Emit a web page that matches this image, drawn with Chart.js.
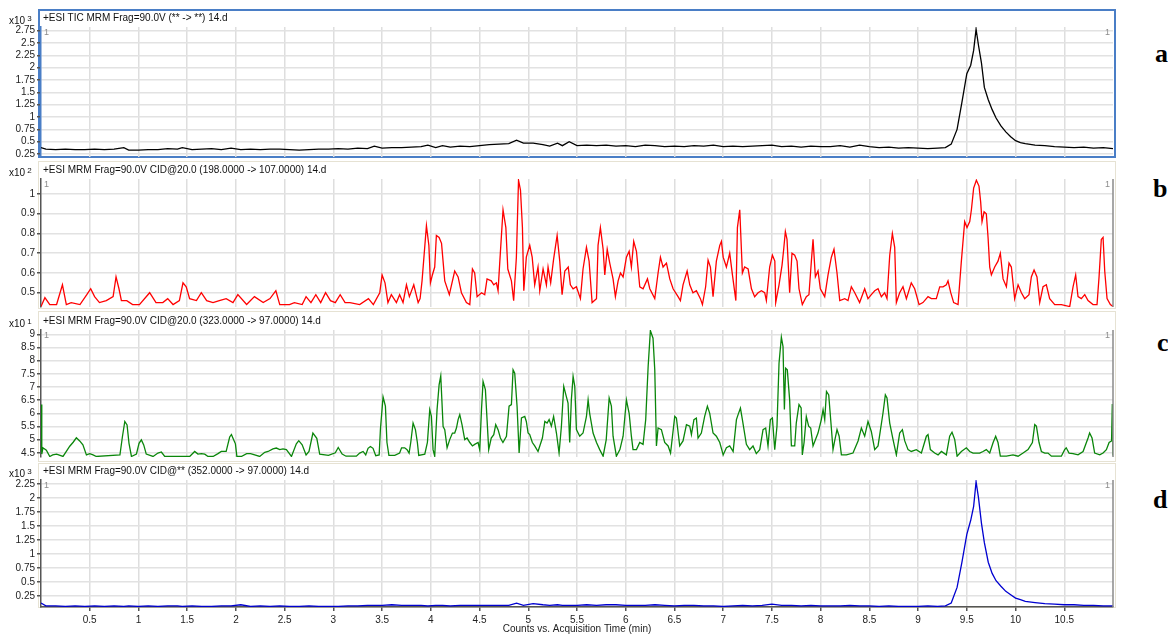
<!DOCTYPE html>
<html>
<head>
<meta charset="utf-8">
<title>MRM chromatograms</title>
<script src="https://cdn.jsdelivr.net/npm/chart.js@4.4.1/dist/chart.umd.min.js"></script>
<style>
  body { margin: 0; width: 1168px; height: 634px; overflow: hidden; background: #fff;
         position: relative; font-family: "Liberation Sans", Arial, sans-serif; }
  .frame { position: absolute; left: 38px; width: 1078px; box-sizing: border-box; border: 1.5px solid #e6e2d3; }
  .frame.sel { border: 2px solid #4a7ec6; }
  .pane { position: absolute; left: 0; }
  .ttl { position: absolute; left: 43px; font-size: 10px; line-height: 12px; color: #111; white-space: nowrap; }
  .exp { position: absolute; left: 9px; font-size: 10px; line-height: 12px; color: #111; }
  .exp sup { font-size: 8px; vertical-align: 3px; margin-left: 2px; }
  .tag { position: absolute; font-family: "Liberation Serif", "Times New Roman", serif; font-weight: bold; font-size: 26px; line-height: 26px; color: #000; }
</style>
</head>
<body>

<div class="frame sel" style="top:9px;height:149px"></div>
<div class="frame" style="top:161px;height:148px"></div>
<div class="frame" style="top:311px;height:151px"></div>
<div class="frame" style="top:463px;height:145px"></div>

<div class="pane" style="top:19px"><canvas id="chartA" width="1120" height="146"></canvas></div>
<div class="pane" style="top:171px"><canvas id="chartB" width="1120" height="144"></canvas></div>
<div class="pane" style="top:322px"><canvas id="chartC" width="1120" height="143"></canvas></div>
<div class="pane" style="top:472px"><canvas id="chartD" width="1120" height="162"></canvas></div>

<div class="exp" style="top:13px">x10<sup>3</sup></div>
<div class="ttl" style="top:12px">+ESI TIC MRM Frag=90.0V (** -&gt; **) 14.d</div>
<div class="exp" style="top:165px">x10<sup>2</sup></div>
<div class="ttl" style="top:164px">+ESI MRM Frag=90.0V CID@20.0 (198.0000 -&gt; 107.0000) 14.d</div>
<div class="exp" style="top:316px">x10<sup>1</sup></div>
<div class="ttl" style="top:315px">+ESI MRM Frag=90.0V CID@20.0 (323.0000 -&gt; 97.0000) 14.d</div>
<div class="exp" style="top:466px">x10<sup>3</sup></div>
<div class="ttl" style="top:465px">+ESI MRM Frag=90.0V CID@** (352.0000 -&gt; 97.0000) 14.d</div>

<div class="tag" style="left:1155px;top:41px">a</div>
<div class="tag" style="left:1153px;top:176px">b</div>
<div class="tag" style="left:1157px;top:330px">c</div>
<div class="tag" style="left:1153px;top:487px">d</div>

<script>
'use strict';

// ── acquisition times (min) shared by the TIC and the 352 -> 97 trace
const timesWide = [
  0, 0.05, 0.15, 0.25, 0.35, 0.45, 0.55, 0.65, 0.75, 0.85,
  0.9, 1.0, 1.1, 1.2, 1.3, 1.4, 1.45, 1.55, 1.65, 1.75,
  1.85, 1.95, 2.05, 2.15, 2.25, 2.35, 2.45, 2.55, 2.65, 2.75,
  2.85, 2.95, 3.05, 3.15, 3.25, 3.35, 3.42, 3.5, 3.6, 3.7,
  3.8, 3.9, 3.97, 4.05, 4.12, 4.2, 4.3, 4.4, 4.5, 4.6,
  4.7, 4.8, 4.88, 4.95, 5.05, 5.15, 5.22, 5.3, 5.35, 5.42,
  5.5, 5.6, 5.7, 5.8, 5.9, 6.0, 6.1, 6.2, 6.3, 6.4,
  6.5, 6.6, 6.7, 6.8, 6.9, 7.0, 7.1, 7.2, 7.3, 7.4,
  7.5, 7.6, 7.7, 7.8, 7.9, 8.0, 8.1, 8.2, 8.3, 8.4,
  8.5, 8.6, 8.7, 8.8, 8.9, 9.0, 9.1, 9.2, 9.28, 9.34,
  9.4, 9.45, 9.5, 9.54, 9.57, 9.595, 9.62, 9.65, 9.68, 9.72,
  9.76, 9.8, 9.85, 9.9, 9.95, 10.0, 10.05, 10.1, 10.2, 10.3,
  10.4, 10.5, 10.6, 10.7, 10.8, 10.9, 11.0
];

// (a) TIC counts, x10^3
const countsA = [
  0.38, 0.35, 0.34, 0.35, 0.34, 0.34, 0.35, 0.34, 0.35, 0.38,
  0.33, 0.33, 0.34, 0.34, 0.36, 0.35, 0.38, 0.34, 0.35, 0.36,
  0.34, 0.37, 0.34, 0.35, 0.34, 0.35, 0.35, 0.34, 0.33, 0.34,
  0.35, 0.35, 0.36, 0.35, 0.37, 0.36, 0.41, 0.37, 0.38, 0.38,
  0.39, 0.40, 0.43, 0.38, 0.42, 0.39, 0.41, 0.40, 0.42, 0.44,
  0.45, 0.46, 0.53, 0.47, 0.47, 0.44, 0.41, 0.47, 0.42, 0.50,
  0.42, 0.43, 0.42, 0.43, 0.41, 0.42, 0.40, 0.43, 0.42, 0.40,
  0.41, 0.40, 0.42, 0.41, 0.43, 0.40, 0.41, 0.40, 0.41, 0.42,
  0.43, 0.40, 0.41, 0.39, 0.41, 0.40, 0.40, 0.42, 0.39, 0.43,
  0.40, 0.38, 0.39, 0.37, 0.38, 0.37, 0.36, 0.37, 0.38, 0.45,
  0.75, 1.30, 1.88, 2.05, 2.35, 2.78, 2.45, 2.10, 1.60, 1.35,
  1.15, 0.98, 0.82, 0.70, 0.60, 0.52, 0.48, 0.46, 0.43, 0.42,
  0.40, 0.39, 0.38, 0.39, 0.37, 0.38, 0.36
];

// (d) 352 -> 97 counts, x10^3
const countsD = [
  0.12, 0.07, 0.07, 0.06, 0.07, 0.06, 0.07, 0.06, 0.07, 0.06,
  0.07, 0.06, 0.07, 0.06, 0.07, 0.07, 0.06, 0.07, 0.06, 0.06,
  0.07, 0.07, 0.09, 0.06, 0.07, 0.06, 0.07, 0.06, 0.06, 0.07,
  0.06, 0.06, 0.06, 0.07, 0.07, 0.08, 0.08, 0.08, 0.09, 0.08,
  0.08, 0.08, 0.07, 0.08, 0.08, 0.07, 0.08, 0.08, 0.08, 0.08,
  0.08, 0.08, 0.12, 0.08, 0.11, 0.09, 0.08, 0.09, 0.08, 0.08,
  0.08, 0.09, 0.08, 0.09, 0.09, 0.08, 0.08, 0.08, 0.09, 0.08,
  0.07, 0.08, 0.08, 0.07, 0.07, 0.06, 0.07, 0.08, 0.07, 0.08,
  0.10, 0.08, 0.08, 0.07, 0.08, 0.07, 0.07, 0.07, 0.08, 0.07,
  0.07, 0.06, 0.07, 0.06, 0.06, 0.06, 0.07, 0.06, 0.07, 0.12,
  0.40, 0.85, 1.35, 1.60, 1.85, 2.29, 2.00, 1.55, 1.20, 0.85,
  0.65, 0.52, 0.42, 0.33, 0.27, 0.21, 0.18, 0.15, 0.13, 0.11,
  0.10, 0.09, 0.09, 0.08, 0.08, 0.07, 0.07
];

// (b) 198 -> 107 trace
const timesB = [
  0.00, 0.04, 0.09, 0.16, 0.22, 0.26, 0.31, 0.40, 0.47, 0.51,
  0.55, 0.60, 0.67, 0.74, 0.77, 0.80, 0.825, 0.88, 0.94, 1.01,
  1.115, 1.18, 1.25, 1.30, 1.355, 1.42, 1.457, 1.49, 1.525, 1.595,
  1.645, 1.70, 1.765, 1.83, 1.90, 1.97, 2.02, 2.11, 2.19, 2.28,
  2.35, 2.41, 2.45, 2.55, 2.60, 2.68, 2.72, 2.77, 2.82, 2.87,
  2.92, 2.97, 3.02, 3.07, 3.12, 3.17, 3.27, 3.36, 3.41, 3.476,
  3.50, 3.53, 3.56, 3.595, 3.647, 3.68, 3.715, 3.75, 3.78, 3.825,
  3.87, 3.89, 3.91, 3.955, 3.98, 3.996, 4.016, 4.04, 4.057, 4.085,
  4.11, 4.143, 4.19, 4.245, 4.28, 4.314, 4.365, 4.40, 4.427, 4.45,
  4.475, 4.52, 4.553, 4.577, 4.62, 4.646, 4.673, 4.69, 4.707, 4.741,
  4.77, 4.79, 4.827, 4.85, 4.878, 4.90, 4.92, 4.94, 4.954, 4.98,
  5.015, 5.04, 5.066, 5.10, 5.118, 5.152, 5.186, 5.203, 5.23, 5.26,
  5.296, 5.323, 5.347, 5.375, 5.41, 5.432, 5.46, 5.494, 5.535, 5.562,
  5.597, 5.624, 5.655, 5.70, 5.716, 5.74, 5.768, 5.785, 5.81, 5.836,
  5.87, 5.894, 5.922, 5.946, 5.973, 6.007, 6.035, 6.058, 6.082, 6.11,
  6.144, 6.178, 6.223, 6.247, 6.298, 6.332, 6.356, 6.383, 6.418, 6.452,
  6.486, 6.537, 6.561, 6.588, 6.63, 6.657, 6.69, 6.725, 6.766, 6.787,
  6.82, 6.845, 6.869, 6.896, 6.93, 6.965, 6.982, 7.0, 7.033, 7.067,
  7.095, 7.13, 7.146, 7.17, 7.197, 7.22, 7.256, 7.29, 7.323, 7.358,
  7.392, 7.426, 7.443, 7.477, 7.505, 7.53, 7.539, 7.573, 7.604, 7.621,
  7.638, 7.655, 7.682, 7.706, 7.734, 7.758, 7.778, 7.812, 7.853, 7.88,
  7.905, 7.922, 7.946, 7.973, 7.997, 8.042, 8.076, 8.11, 8.137, 8.168,
  8.196, 8.247, 8.281, 8.315, 8.35, 8.40, 8.452, 8.486, 8.52, 8.555,
  8.589, 8.623, 8.657, 8.681, 8.709, 8.736, 8.76, 8.777, 8.811, 8.845,
  8.88, 8.93, 8.965, 9.01, 9.05, 9.102, 9.136, 9.187, 9.222, 9.256,
  9.29, 9.307, 9.335, 9.365, 9.41, 9.444, 9.478, 9.502, 9.53, 9.547,
  9.57, 9.598, 9.625, 9.642, 9.656, 9.677, 9.70, 9.718, 9.735, 9.752,
  9.786, 9.82, 9.844, 9.872, 9.906, 9.933, 9.957, 9.991, 10.026, 10.06,
  10.094, 10.138, 10.162, 10.19, 10.22, 10.248, 10.282, 10.316, 10.35, 10.402,
  10.47, 10.556, 10.59, 10.617, 10.641, 10.675, 10.71, 10.744, 10.795, 10.836,
  10.857, 10.88, 10.898, 10.915, 10.939, 10.973, 11.0
];
const countsB = [
  0.43, 0.475, 0.44, 0.44, 0.54, 0.44, 0.45, 0.44, 0.49, 0.52,
  0.48, 0.45, 0.46, 0.48, 0.58, 0.52, 0.46, 0.46, 0.44, 0.44,
  0.50, 0.45, 0.45, 0.47, 0.44, 0.46, 0.55, 0.53, 0.47, 0.46,
  0.50, 0.46, 0.45, 0.46, 0.47, 0.45, 0.49, 0.44, 0.48, 0.45,
  0.47, 0.51, 0.44, 0.44, 0.45, 0.44, 0.48, 0.45, 0.49, 0.45,
  0.50, 0.46, 0.45, 0.49, 0.45, 0.45, 0.44, 0.47, 0.44, 0.50,
  0.59, 0.55, 0.45, 0.49, 0.45, 0.49, 0.45, 0.54, 0.48, 0.54,
  0.45, 0.47, 0.56, 0.84, 0.74, 0.55, 0.59, 0.63, 0.79, 0.78,
  0.75, 0.56, 0.49, 0.61, 0.58, 0.50, 0.45, 0.44, 0.62, 0.60,
  0.48, 0.50, 0.49, 0.57, 0.56, 0.54, 0.55, 0.51, 0.65, 0.92,
  0.83, 0.62, 0.56, 0.46, 0.68, 1.07, 1.02, 0.83, 0.51, 0.68,
  0.74, 0.68, 0.54, 0.63, 0.51, 0.62, 0.54, 0.63, 0.55, 0.67,
  0.79, 0.66, 0.49, 0.61, 0.63, 0.54, 0.52, 0.53, 0.47, 0.62,
  0.73, 0.66, 0.45, 0.47, 0.74, 0.83, 0.72, 0.59, 0.72, 0.65,
  0.57, 0.48, 0.56, 0.60, 0.58, 0.68, 0.71, 0.63, 0.76, 0.71,
  0.53, 0.52, 0.57, 0.52, 0.47, 0.60, 0.68, 0.63, 0.65, 0.57,
  0.52, 0.48, 0.46, 0.54, 0.61, 0.54, 0.50, 0.51, 0.47, 0.44,
  0.53, 0.665, 0.63, 0.48, 0.66, 0.74, 0.76, 0.68, 0.63, 0.70,
  0.59, 0.46, 0.83, 0.92, 0.60, 0.63, 0.62, 0.52, 0.48, 0.50,
  0.51, 0.50, 0.46, 0.63, 0.69, 0.66, 0.45, 0.54, 0.64, 0.72,
  0.81, 0.77, 0.50, 0.70, 0.69, 0.66, 0.52, 0.44, 0.48, 0.49,
  0.66, 0.77, 0.58, 0.61, 0.52, 0.48, 0.59, 0.68, 0.72, 0.60,
  0.46, 0.47, 0.46, 0.53, 0.50, 0.45, 0.52, 0.47, 0.49, 0.51,
  0.52, 0.48, 0.50, 0.47, 0.69, 0.80, 0.73, 0.45, 0.50, 0.53,
  0.47, 0.55, 0.52, 0.44, 0.45, 0.48, 0.47, 0.47, 0.53, 0.53,
  0.54, 0.56, 0.50, 0.45, 0.44, 0.66, 0.86, 0.83, 0.86, 0.92,
  1.03, 1.07, 1.04, 0.96, 0.86, 0.91, 0.90, 0.78, 0.63, 0.59,
  0.63, 0.66, 0.70, 0.57, 0.53, 0.65, 0.63, 0.47, 0.54, 0.50,
  0.47, 0.49, 0.58, 0.615, 0.58, 0.45, 0.53, 0.54, 0.47, 0.44,
  0.44, 0.43, 0.53, 0.59, 0.48, 0.47, 0.49, 0.46, 0.44, 0.44,
  0.58, 0.77, 0.78, 0.61, 0.47, 0.44, 0.43
];

// (c) 323 -> 97 trace
const timesC = [
  0, 0.008, 0.02, 0.055, 0.09, 0.12, 0.16, 0.226, 0.26, 0.295,
  0.33, 0.363, 0.397, 0.43, 0.466, 0.50, 0.534, 0.568, 0.81, 0.835,
  0.86, 0.883, 0.903, 0.928, 0.979, 1.006, 1.03, 1.054, 1.08, 1.15,
  1.20, 1.235, 1.27, 1.526, 1.577, 1.61, 1.646, 1.68, 1.714, 1.765,
  1.816, 1.85, 1.90, 1.936, 1.954, 1.97, 1.995, 2.01, 2.056, 2.11,
  2.15, 2.193, 2.244, 2.296, 2.33, 2.38, 2.415, 2.45, 2.483, 2.518,
  2.545, 2.57, 2.62, 2.645, 2.68, 2.72, 2.75, 2.79, 2.83, 2.86,
  2.95, 3.02, 3.05, 3.09, 3.13, 3.236, 3.27, 3.305, 3.332, 3.356,
  3.38, 3.407, 3.435, 3.47, 3.483, 3.51, 3.534, 3.55, 3.57, 3.63,
  3.68, 3.70, 3.732, 3.756, 3.777, 3.794, 3.818, 3.842, 3.862, 3.876,
  3.938, 3.965, 3.989, 4.006, 4.023, 4.04, 4.064, 4.085, 4.102, 4.126,
  4.143, 4.167, 4.194, 4.222, 4.245, 4.263, 4.28, 4.297, 4.32, 4.348,
  4.372, 4.40, 4.427, 4.45, 4.485, 4.502, 4.52, 4.536, 4.56, 4.577,
  4.594, 4.62, 4.646, 4.666, 4.69, 4.714, 4.74, 4.776, 4.803, 4.827,
  4.844, 4.861, 4.885, 4.906, 4.93, 4.964, 4.98, 4.998, 5.015, 5.042,
  5.066, 5.10, 5.145, 5.17, 5.193, 5.214, 5.237, 5.26, 5.289, 5.316,
  5.34, 5.364, 5.39, 5.408, 5.425, 5.442, 5.46, 5.477, 5.494, 5.528,
  5.562, 5.597, 5.614, 5.63, 5.665, 5.70, 5.733, 5.768, 5.80, 5.83,
  5.853, 5.87, 5.904, 5.94, 5.973, 6.007, 6.035, 6.058, 6.075, 6.11,
  6.144, 6.178, 6.205, 6.23, 6.253, 6.28, 6.298, 6.315, 6.332, 6.366,
  6.40, 6.435, 6.46, 6.503, 6.52, 6.554, 6.588, 6.623, 6.657, 6.674,
  6.70, 6.725, 6.742, 6.776, 6.81, 6.838, 6.862, 6.896, 6.93, 6.965,
  7.0, 7.033, 7.067, 7.102, 7.136, 7.153, 7.177, 7.197, 7.238, 7.272,
  7.306, 7.34, 7.375, 7.409, 7.436, 7.46, 7.484, 7.505, 7.529, 7.552,
  7.573, 7.597, 7.614, 7.628, 7.641, 7.658, 7.682, 7.70, 7.734, 7.75,
  7.778, 7.80, 7.812, 7.83, 7.853, 7.877, 7.898, 7.922, 7.973, 8.007,
  8.025, 8.042, 8.06, 8.083, 8.11, 8.127, 8.144, 8.168, 8.19, 8.213,
  8.264, 8.332, 8.384, 8.418, 8.452, 8.486, 8.52, 8.555, 8.589, 8.64,
  8.664, 8.681, 8.709, 8.743, 8.777, 8.811, 8.839, 8.863, 8.897, 8.93,
  8.982, 9.034, 9.085, 9.102, 9.126, 9.17, 9.205, 9.239, 9.29, 9.324,
  9.348, 9.376, 9.40, 9.444, 9.495, 9.53, 9.564, 9.598, 9.632, 9.666,
  9.70, 9.735, 9.77, 9.796, 9.82, 9.844, 9.906, 9.974, 10.026, 10.077,
  10.128, 10.173, 10.197, 10.214, 10.241, 10.265, 10.30, 10.333, 10.368, 10.47,
  10.504, 10.52, 10.549, 10.59, 10.641, 10.693, 10.744, 10.76, 10.785, 10.812,
  10.864, 10.898, 10.932, 10.96, 10.985, 10.993, 11.0
];
const countsC = [
  6.33, 4.45, 4.69, 4.60, 4.36, 4.42, 4.45, 4.36, 4.55, 4.75,
  4.90, 5.07, 4.95, 4.80, 4.42, 4.47, 4.42, 4.36, 4.42, 5.10,
  5.69, 5.56, 4.86, 4.36, 4.45, 4.86, 4.99, 4.80, 4.45, 4.36,
  4.49, 4.53, 4.36, 4.36, 4.55, 4.45, 4.47, 4.45, 4.36, 4.36,
  4.47, 4.55, 4.55, 5.10, 5.19, 5.05, 4.84, 4.36, 4.36, 4.47,
  4.47, 4.42, 4.36, 4.52, 4.55, 4.65, 4.68, 4.62, 4.65, 4.62,
  4.49, 4.36, 4.84, 4.96, 4.80, 4.42, 4.55, 5.25, 5.05, 4.45,
  4.40, 4.50, 4.70, 4.45, 4.37, 4.37, 4.49, 4.55, 4.42, 4.67,
  4.74, 4.67, 4.39, 4.42, 5.40, 6.62, 6.27, 4.89, 4.40, 4.40,
  4.49, 4.69, 4.69, 4.62, 4.49, 4.89, 5.63, 5.38, 4.89, 4.40,
  4.45, 4.89, 6.14, 5.88, 4.62, 4.37, 6.14, 7.08, 7.42, 5.50,
  5.38, 4.69, 5.00, 5.25, 5.25, 5.44, 5.76, 5.95, 5.57, 5.00,
  5.06, 4.89, 4.76, 4.82, 4.89, 4.62, 6.14, 7.21, 6.90, 5.76,
  4.62, 5.06, 5.19, 5.57, 5.38, 5.06, 4.89, 5.13, 6.27, 6.33,
  7.65, 7.52, 6.27, 4.49, 5.82, 5.88, 5.69, 5.25, 5.19, 4.89,
  4.76, 4.55, 5.06, 5.69, 5.63, 5.76, 5.51, 5.88, 5.25, 4.49,
  5.51, 7.02, 6.64, 6.39, 4.89, 6.51, 7.40, 7.02, 5.38, 5.13,
  5.25, 5.88, 6.51, 6.00, 5.25, 4.89, 4.62, 4.37, 5.00, 6.58,
  6.27, 5.13, 4.37, 4.62, 5.13, 6.51, 6.00, 5.13, 4.62, 4.62,
  4.89, 4.82, 5.76, 7.78, 9.14, 8.85, 7.65, 4.76, 5.44, 5.38,
  4.89, 4.76, 4.49, 5.88, 5.82, 4.76, 4.95, 5.57, 5.51, 5.19,
  5.76, 5.82, 5.06, 5.25, 5.88, 6.27, 6.00, 5.25, 5.13, 4.89,
  4.42, 4.69, 4.76, 4.55, 5.76, 5.95, 6.20, 5.76, 4.82, 4.62,
  4.76, 4.47, 4.62, 5.38, 5.44, 4.76, 5.76, 5.82, 4.62, 5.51,
  7.90, 8.89, 8.53, 6.14, 7.71, 7.65, 6.51, 4.76, 4.76, 5.63,
  6.33, 6.20, 4.42, 4.89, 5.88, 5.51, 5.44, 4.76, 5.25, 5.76,
  6.14, 5.76, 6.83, 6.70, 5.44, 4.62, 4.95, 5.38, 5.13, 4.42,
  4.42, 4.49, 4.95, 5.44, 5.13, 5.69, 5.31, 4.62, 4.76, 6.01,
  6.70, 6.58, 5.63, 5.00, 4.42, 5.25, 5.38, 4.95, 4.62, 4.55,
  4.62, 4.49, 5.13, 5.19, 4.62, 4.49, 4.42, 4.55, 4.42, 5.13,
  5.28, 5.00, 4.37, 4.55, 4.69, 4.55, 4.49, 4.49, 4.49, 4.55,
  4.62, 4.49, 4.89, 5.13, 4.89, 4.37, 4.37, 4.42, 4.37, 4.49,
  4.62, 4.89, 5.57, 5.51, 4.89, 4.55, 4.49, 4.49, 4.37, 4.37,
  4.62, 4.69, 4.49, 4.47, 4.42, 4.55, 5.06, 5.25, 5.06, 4.49,
  4.42, 4.49, 4.62, 4.89, 4.95, 6.35, 4.40
];

const FONT = { family: '"Liberation Sans", Arial, sans-serif', size: 10 };
const fmt = v => +Number(v).toFixed(2);

// small grey "1" markers in the top corners, plus the grey right edge
const cornerMarks = {
  id: 'cornerMarks',
  afterDraw(chart, args, opts) {
    const { ctx, chartArea: a } = chart;
    ctx.save();
    if (opts.edge) {
      ctx.strokeStyle = opts.edge;
      ctx.lineWidth = 1.5;
      ctx.beginPath();
      ctx.moveTo(a.right, a.top);
      ctx.lineTo(a.right, a.bottom);
      ctx.stroke();
    }
    ctx.font = '9px "Liberation Sans", Arial, sans-serif';
    ctx.fillStyle = '#8c8c8c';
    ctx.textBaseline = 'top';
    ctx.textAlign = 'left';
    ctx.fillText('1', a.left + 3, a.top + 1);
    ctx.textAlign = 'right';
    ctx.fillText('1', a.right - 3, a.top + 1);
    ctx.restore();
  }
};

function xScale(bottom) {
  return {
    type: 'linear', min: 0, max: 11,
    ticks: { stepSize: 0.5, display: bottom, autoSkip: false, maxRotation: 0,
             padding: 3, color: '#222', font: FONT, callback: fmt },
    afterBuildTicks: s => { s.ticks = s.ticks.filter(t => t.value > 0.01 && t.value < 10.99); },
    grid: { color: '#dedede', lineWidth: 1.5, drawTicks: bottom, tickLength: 4, tickColor: '#555' },
    border: { display: bottom, color: '#555', width: 1.5 },
    title: { display: bottom, text: 'Counts vs. Acquisition Time (min)', color: '#222',
             font: { ...FONT, lineHeight: 1 }, padding: { top: 0, bottom: 0 } },
    afterFit: s => { s.height = bottom ? 27 : 0; }
  };
}

function yScale(min, max, step, axisColor) {
  return {
    min, max,
    ticks: { stepSize: step, includeBounds: false, autoSkip: false, padding: 2,
             color: '#222', font: FONT, callback: fmt },
    grid: { color: '#e2e2e2', lineWidth: 1.5, tickLength: 4, tickColor: '#555' },
    border: { color: axisColor, width: 1.5 },
    afterFit: s => { s.width = 41; }
  };
}

function drawTrace(id, times, counts, color, y, bottom, edge) {
  const ctx = document.getElementById(id);
  return new Chart(ctx, {
    type: 'line',
    data: {
      datasets: [{
        data: times.map((t, i) => ({ x: t, y: counts[i] })),
        borderColor: color,
        borderWidth: 1.3,
        pointRadius: 0,
        tension: 0,
        fill: false
      }]
    },
    options: {
      responsive: false,
      animation: false,
      layout: { padding: { left: 0, right: 7, top: 8, bottom: bottom ? 0 : 8 } },
      plugins: { legend: { display: false }, tooltip: { enabled: false }, cornerMarks: { edge } },
      scales: { x: xScale(bottom), y: y }
    },
    plugins: [cornerMarks]
  });
}

drawTrace('chartA', timesWide, countsA, '#000000', yScale(0.19, 2.825, 0.25, '#4a7ec6'), false, null);
drawTrace('chartB', timesB, countsB, '#ff0000', yScale(0.4276, 1.076, 0.1, '#555'), false, '#8a8a8a');
drawTrace('chartC', timesC, countsC, '#0a860a', yScale(4.34, 9.163, 0.5, '#555'), false, '#8a8a8a');
drawTrace('chartD', timesWide, countsD, '#0000d0', yScale(0.05, 2.32, 0.25, '#555'), true, '#8a8a8a');
</script>
</body>
</html>
